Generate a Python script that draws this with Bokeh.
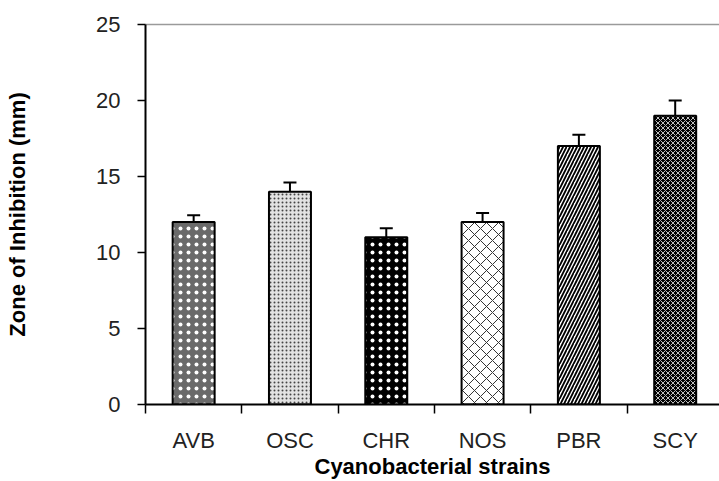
from bokeh.plotting import figure
from bokeh.models import (ColumnDataSource, Range1d, FixedTicker, LinearAxis,
                          Whisker, TeeHead)
from bokeh.embed import file_html
from bokeh.resources import INLINE

# ---- data ----
strains = ["AVB", "OSC", "CHR", "NOS", "PBR", "SCY"]
means = [12.0, 14.0, 11.0, 12.0, 17.0, 19.0]
errors = [0.45, 0.6, 0.6, 0.6, 0.75, 1.0]
y_ticks = [0, 5, 10, 15, 20, 25]

# ---- styles ----
fills = ["#6a6a6a", "#e2e2e2", "#000000", "#ffffff", "#ffffff", "#000000"]
hatches = ["dot", "dot", "dot", "diagonal_cross", "right_diagonal_line", "diagonal_cross"]
hatch_colors = ["#ffffff", "#444444", "#ffffff", "#333333", "#000000", "#c0c0c0"]
hatch_scales = [8, 4, 8, 12, 7, 5]
hatch_weights = [1.5, 1, 1.5, 1, 1.8, 1]

xs = [i + 0.5 for i in range(len(strains))]
src = ColumnDataSource(dict(
    x=xs, top=means,
    upper=[m + e for m, e in zip(means, errors)],
    lower=[m - e for m, e in zip(means, errors)],
    fill=fills, hatch=hatches, hcol=hatch_colors,
    hscale=hatch_scales, hw=hatch_weights,
))

p = figure(width=719, height=481, output_backend="svg", toolbar_location=None,
           x_range=Range1d(0, 5.96), y_range=Range1d(0, 25),
           min_border_left=145, min_border_right=0, min_border_top=24,
           min_border_bottom=75, x_axis_type=None, y_axis_type=None)
p.grid.visible = False
p.outline_line_color = None
p.background_fill_color = "white"
p.border_fill_color = "white"

p.vbar(x="x", top="top", bottom=0, width=0.436, source=src,
       fill_color="fill", line_color="black", line_width=2,
       hatch_pattern="hatch", hatch_color="hcol", hatch_scale="hscale",
       hatch_weight="hw")

w = Whisker(base="x", upper="upper", lower="lower", source=src,
            line_color="black", line_width=2,
            upper_head=TeeHead(size=13, line_color="black", line_width=2),
            lower_head=TeeHead(size=13, line_color="black", line_width=2))
p.add_layout(w)

# y axis
yax = LinearAxis(ticker=FixedTicker(ticks=y_ticks))
yax.axis_label = "Zone of Inhibition (mm)"
yax.axis_label_text_font = "Liberation Sans"
yax.axis_label_text_font_style = "bold"
yax.axis_label_text_font_size = "22px"
yax.axis_label_text_color = "black"
yax.axis_label_standoff = 63
yax.major_label_text_font = "Liberation Sans"
yax.major_label_text_font_size = "22px"
yax.major_label_text_color = "#222222"
yax.major_label_standoff = 17
yax.major_tick_out = 8
yax.major_tick_in = 0
yax.major_tick_line_width = 1.5
yax.minor_tick_line_color = None
yax.axis_line_width = 2
yax.axis_line_color = "black"
p.add_layout(yax, "left")

# x axis
xax = LinearAxis(ticker=FixedTicker(ticks=xs, minor_ticks=[0, 1, 2, 3, 4, 5]))
xax.major_label_overrides = {x: s for x, s in zip(xs, strains)}
xax.major_tick_line_color = None
xax.major_tick_out = 0
xax.major_tick_in = 0
xax.minor_tick_out = 9
xax.minor_tick_in = 0
xax.minor_tick_line_width = 1.5
xax.minor_tick_line_color = "black"
xax.axis_line_width = 2
xax.axis_line_color = "black"
xax.major_label_text_font = "Liberation Sans"
xax.major_label_text_font_size = "22px"
xax.major_label_text_color = "#222222"
xax.major_label_standoff = 14
xax.axis_label = "Cyanobacterial strains"
xax.axis_label_text_font = "Liberation Sans"
xax.axis_label_text_font_style = "bold"
xax.axis_label_text_font_size = "22px"
xax.axis_label_text_color = "black"
xax.axis_label_standoff = -2
p.add_layout(xax, "below")

# top border line
tax = LinearAxis(ticker=FixedTicker(ticks=[]))
tax.axis_line_color = "#9a9a9a"
tax.axis_line_width = 1.5
tax.major_tick_line_color = None
tax.minor_tick_line_color = None
tax.major_tick_out = 0
tax.major_label_text_font_size = "0px"
tax.major_label_standoff = 0
p.add_layout(tax, "above")

open("out.html", "w").write(file_html(p, INLINE))
